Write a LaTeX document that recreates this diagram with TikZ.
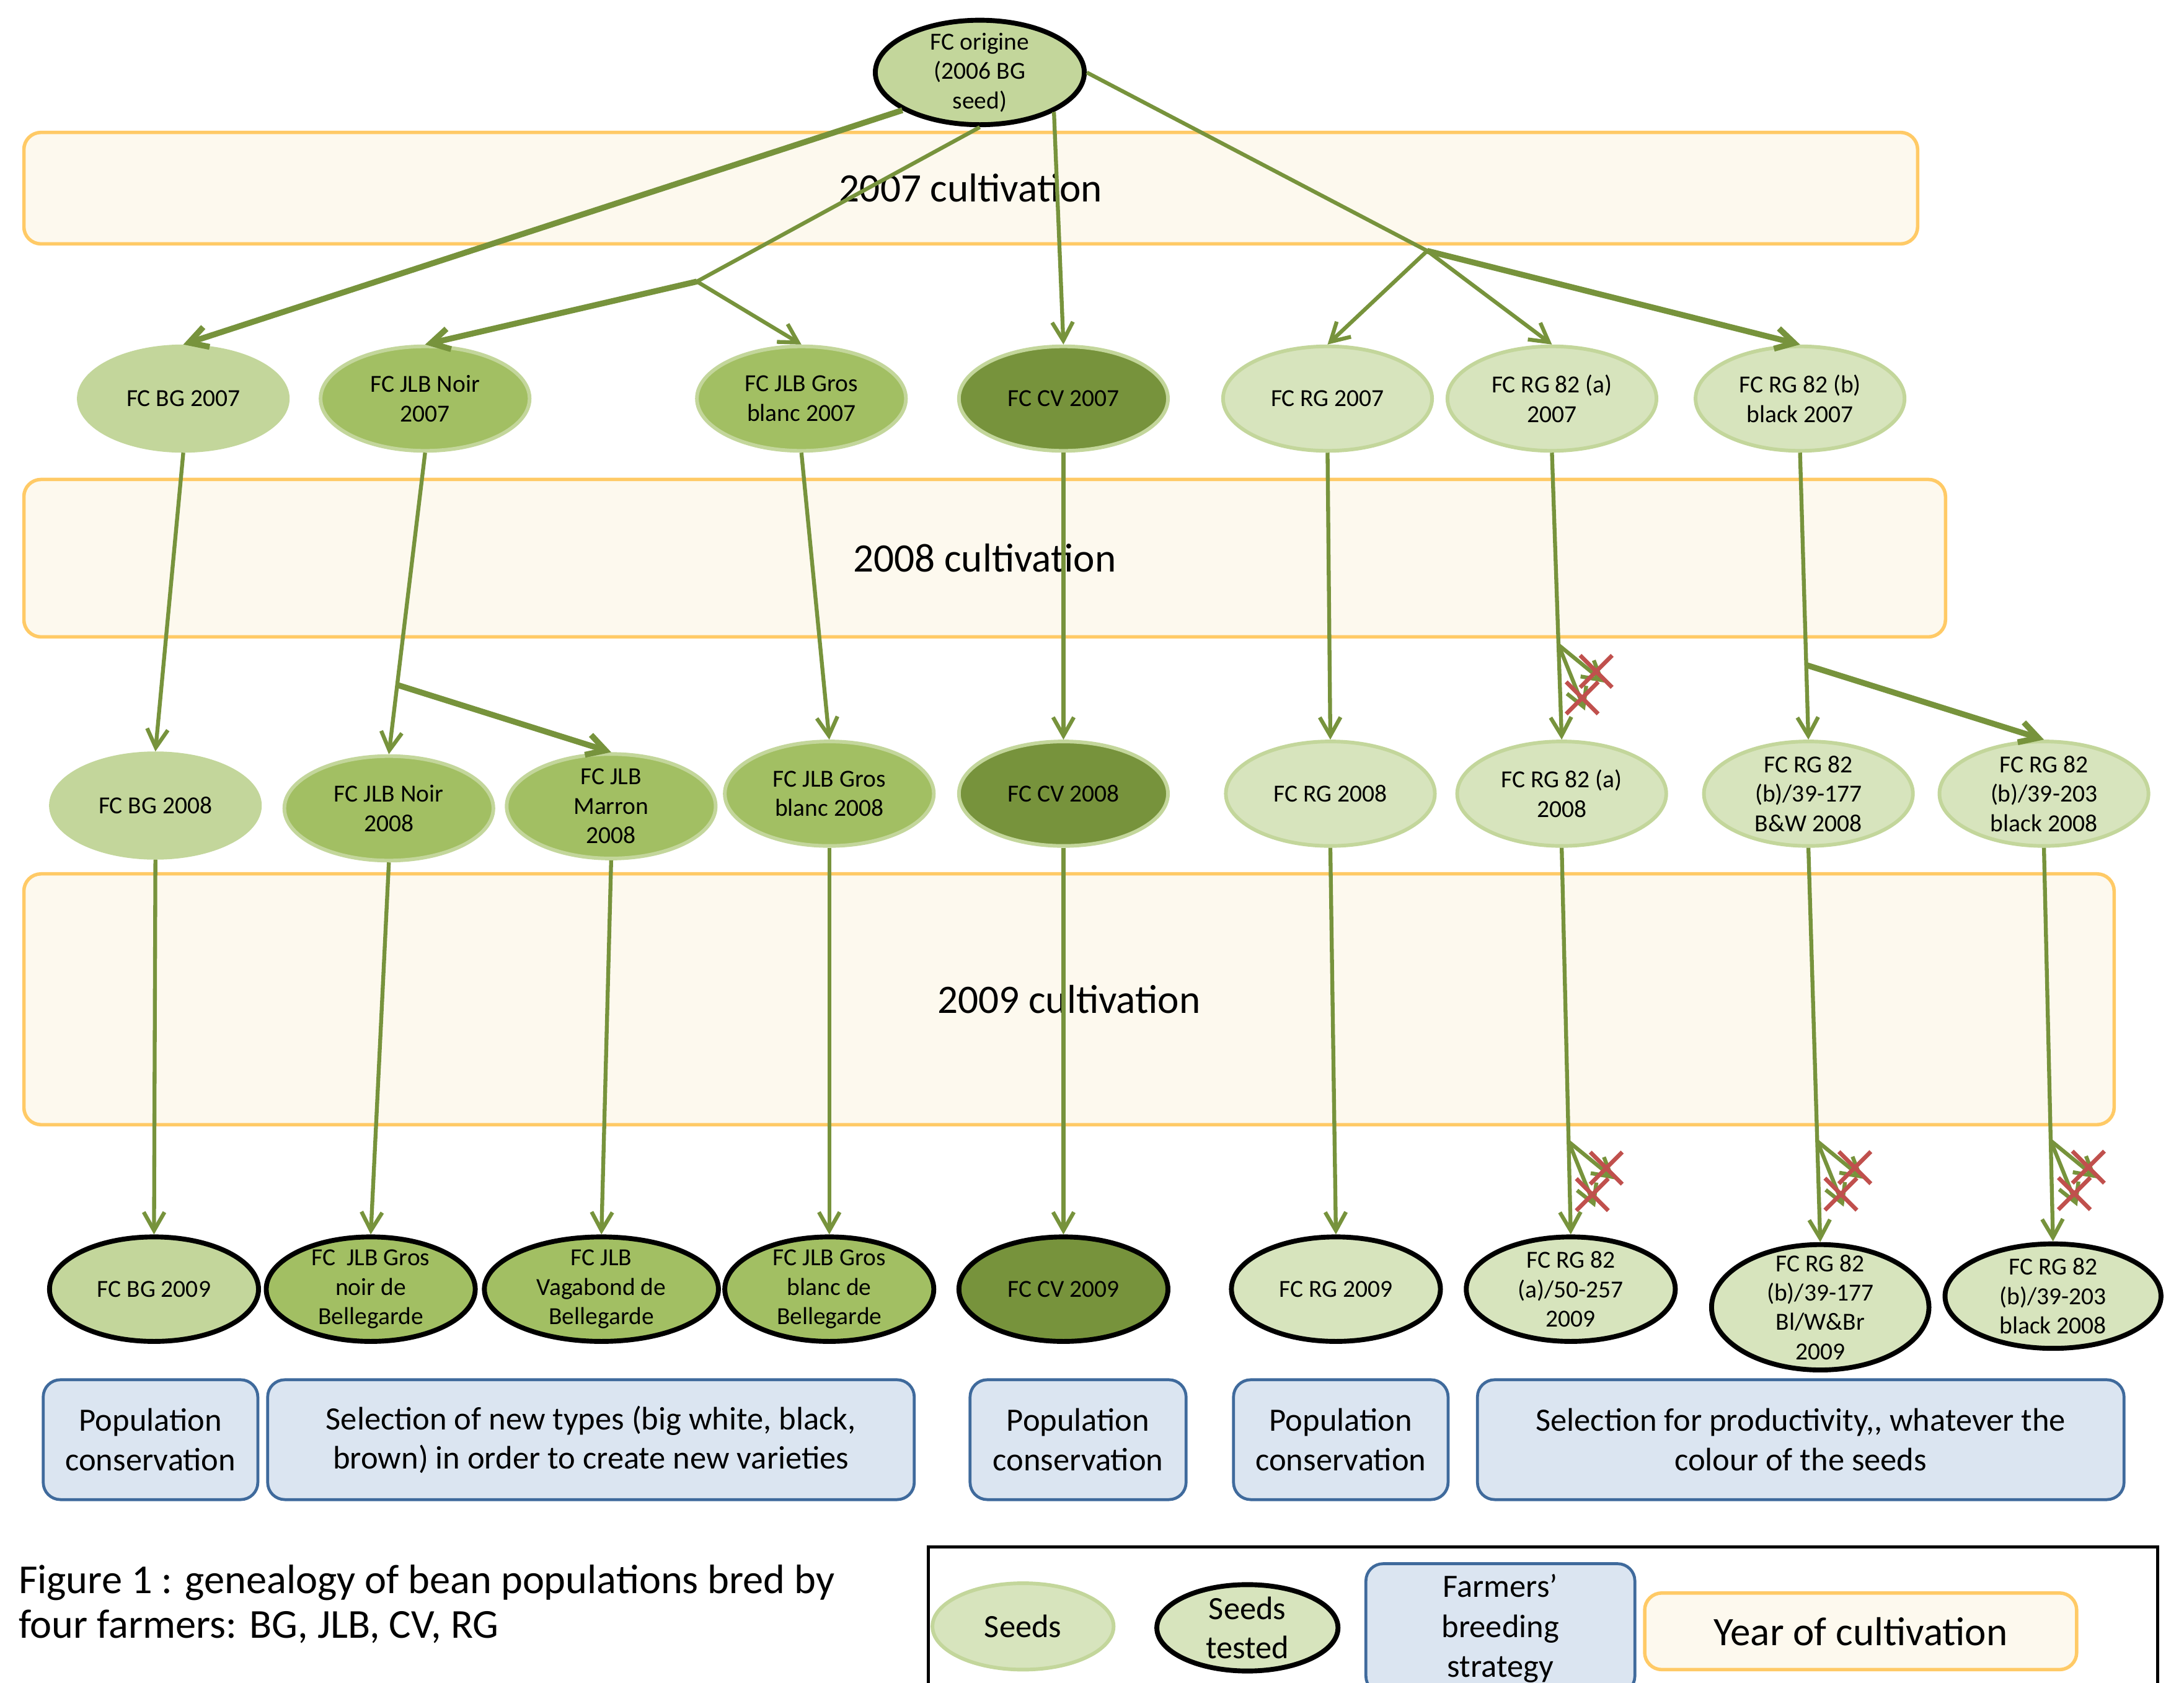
\documentclass[tikz,border=0pt]{standalone}
\usepackage{fontspec}
\setmainfont{Carlito}
\usetikzlibrary{shapes.geometric}
\usetikzlibrary{shapes.misc}
\usetikzlibrary{arrows.meta}
\usetikzlibrary{calc}
\definecolor{yearfill}{HTML}{FDF9EE}
\definecolor{yeardraw}{HTML}{FFCA66}
\definecolor{stratfill}{HTML}{DBE5F1}
\definecolor{stratdraw}{HTML}{3F6A9C}
\definecolor{bgfill}{HTML}{C3D69B}
\definecolor{jlbfill}{HTML}{A2BF63}
\definecolor{cvfill}{HTML}{77933C}
\definecolor{rgfill}{HTML}{D7E4BD}
\definecolor{linkgreen}{HTML}{77933C}
\definecolor{crossred}{HTML}{C0504D}
\tikzset{>={Straight Barb[length=7.5pt,width=8.5pt]}}
\tikzset{seed/.style={ellipse,inner sep=-6pt,minimum width=3cm,minimum height=1.5cm,align=center,line width=1.5pt,font=\fontsize{10}{12}\selectfont}}
\tikzset{bgseed/.style={seed,fill=bgfill,draw=bgfill}}
\tikzset{jlbseed/.style={seed,fill=jlbfill,draw=bgfill}}
\tikzset{cvseed/.style={seed,fill=cvfill,draw=bgfill}}
\tikzset{rgseed/.style={seed,fill=rgfill,draw=bgfill}}
\tikzset{tested/.style={draw=black,line width=2pt}}
\tikzset{year/.style={rectangle,rounded corners=7pt,fill=yearfill,draw=yeardraw,line width=1.4pt,font=\fontsize{16.5}{20}\selectfont}}
\tikzset{strategy/.style={rectangle,rounded corners=7pt,fill=stratfill,draw=stratdraw,line width=1.2pt,align=center,minimum height=1.72cm,font=\fontsize{13.3}{16}\selectfont}}
\tikzset{link/.style={draw=linkgreen,line width=1.6pt}}
\tikzset{biglink/.style={draw=linkgreen,line width=2.4pt}}
\tikzset{rejected/.style={cross out,draw=crossred,line width=1.7pt,minimum size=0.4cm,inner sep=0pt}}
\newcommand{\rejectpair}[1]{%
  \coordinate (#1x1) at ($(#1)+(33,27)$);
  \coordinate (#1x2) at ($(#1)+(19,47)$);
  \draw[link,->] (#1) -- (#1x1);
  \draw[link,->] (#1) -- (#1x2);
  \node[rejected] (#1c1) at ($(#1)+(27,19)$) {};
  \node[rejected] (#1c2) at ($(#1)+(17,38)$) {};
}

\begin{document}
\begin{tikzpicture}[x={(0.02cm,0)},y={(0,-0.02cm)}]
\useasboundingbox (0,0) rectangle (1567,1207.6);

\node[year,minimum width=27.18cm,minimum height=1.6cm] (y07) at (696.5,135) {2007 cultivation};
\node[year,minimum width=27.58cm,minimum height=2.26cm] (y08) at (706.5,400.5) {2008 cultivation};
\node[year,minimum width=30cm,minimum height=3.6cm] (y09) at (767,717) {2009 cultivation};

\node[bgseed,tested] (origin) at (703,52) {FC origine\\(2006 BG\\seed)};

\node[bgseed] (bg07) at (131.5,286) {FC BG 2007};
\node[jlbseed] (noir07) at (305,286) {FC JLB Noir\\2007};
\node[jlbseed] (gros07) at (575,286) {FC JLB Gros\\blanc 2007};
\node[cvseed] (cv07) at (763,286) {FC CV 2007};
\node[rgseed] (rg07) at (952.5,286) {FC RG 2007};
\node[rgseed] (rga07) at (1113.5,286) {FC RG 82 (a)\\2007};
\node[rgseed] (rgb07) at (1291.5,286) {FC RG 82 (b)\\black 2007};

\node[bgseed] (bg08) at (111.5,578) {FC BG 2008};
\node[jlbseed] (noir08) at (279,580) {FC JLB Noir\\2008};
\node[jlbseed] (marron08) at (438.5,578.5) {FC JLB\\Marron\\2008};
\node[jlbseed] (gros08) at (595,569.5) {FC JLB Gros\\blanc 2008};
\node[cvseed] (cv08) at (763,569.5) {FC CV 2008};
\node[rgseed] (rg08) at (954.5,569.5) {FC RG 2008};
\node[rgseed] (rga08) at (1120.5,569.5) {FC RG 82 (a)\\2008};
\node[rgseed] (rgb177) at (1297.5,569.5) {FC RG 82\\(b)/39-177\\B\&W 2008};
\node[rgseed] (rgb203) at (1466.5,569.5) {FC RG 82\\(b)/39-203\\black 2008};

\node[bgseed,tested] (bg09) at (110.5,925) {FC BG 2009};
\node[jlbseed,tested] (noir09) at (266,925) {FC\ \ JLB Gros\\noir de\\Bellegarde};
\node[jlbseed,tested,minimum width=3.36cm] (vaga09) at (431.5,925) {FC JLB\\Vagabond de\\Bellegarde};
\node[jlbseed,tested] (gros09) at (595,925) {FC JLB Gros\\blanc de\\Bellegarde};
\node[cvseed,tested] (cv09) at (763,925) {FC CV 2009};
\node[rgseed,tested] (rg09) at (958.5,925) {FC RG 2009};
\node[rgseed,tested] (rga09) at (1127,925) {FC RG 82\\(a)/50-257\\2009};
\node[rgseed,tested,minimum width=3.12cm,minimum height=1.8cm] (rgb177b) at (1306,938) {FC RG 82\\(b)/39-177\\Bl/W\&Br\\2009};
\node[rgseed,tested,minimum width=3.1cm] (rgb203b) at (1473,930) {FC RG 82\\(b)/39-203\\black 2008};

\coordinate (jlb) at (500,202);
\coordinate (rg) at (1024,180);
\draw[biglink,->] (origin.206) -- (bg07.north);
\draw[link] (origin.south) -- (jlb);
\draw[biglink,->] (jlb) -- (noir07.north);
\draw[link,->] (jlb) -- (gros07.north);
\draw[link,->] (origin.-28) -- (cv07.north);
\draw[link] (origin.east) -- (rg);
\draw[link,->] (rg) -- (rg07.north);
\draw[link,->] (rg) -- (rga07.north);
\draw[biglink,->] (rg) -- (rgb07.north);

\draw[link,->] (bg07.south) -- (bg08.north);
\draw[link,->] (noir07.south) -- (noir08.north);
\coordinate (noirsplit) at ($(noir07.south)!0.77!(noir08.north)$);
\draw[biglink,->] (noirsplit) -- (marron08.north);
\draw[link,->] (gros07.south) -- (gros08.north);
\draw[link,->] (cv07.south) -- (cv08.north);
\draw[link,->] (rg07.south) -- (rg08.north);
\draw[link,->] (rga07.south) -- (rga08.north);
\coordinate (rgarej) at ($(rga07.south)!0.67!(rga08.north)$);
\rejectpair{rgarej}
\draw[link,->] (rgb07.south) -- (rgb177.north);
\coordinate (rgbsplit) at ($(rgb07.south)!0.74!(rgb177.north)$);
\draw[biglink,->] (rgbsplit) -- (rgb203.north);

\draw[link,->] (bg08.south) -- (bg09.north);
\draw[link,->] (noir08.south) -- (noir09.north);
\draw[link,->] (marron08.south) -- (vaga09.north);
\draw[link,->] (gros08.south) -- (gros09.north);
\draw[link,->] (cv08.south) -- (cv09.north);
\draw[link,->] (rg08.south) -- (rg09.north);
\draw[link,->] (rga08.south) -- (rga09.north);
\coordinate (rgarejb) at ($(rga08.south)!0.76!(rga09.north)$);
\rejectpair{rgarejb}
\draw[link,->] (rgb177.south) -- (rgb177b.north);
\coordinate (rgbrej) at ($(rgb177.south)!0.744!(rgb177b.north)$);
\rejectpair{rgbrej}
\draw[link,->] (rgb203.south) -- (rgb203b.north);
\coordinate (rgcrej) at ($(rgb203.south)!0.744!(rgb203b.north)$);
\rejectpair{rgcrej}

\node[strategy,minimum width=3.08cm] (s1) at (108,1033) {Population\\conservation};
\node[strategy,minimum width=9.28cm] (s2) at (424,1033) {Selection of new types (big white, black,\\brown) in order to create new varieties};
\node[strategy,minimum width=3.1cm] (s3) at (773.5,1033) {Population\\conservation};
\node[strategy,minimum width=3.08cm] (s4) at (962,1033) {Population\\conservation};
\node[strategy,minimum width=9.28cm] (s5) at (1292,1033) {Selection for productivity,{},{} whatever the\\colour of the seeds};

\node[anchor=west,inner sep=0pt,align=left,font=\fontsize{16.8}{18.2}\selectfont] (caption) at (13,1151) {Figure 1 : genealogy of bean populations bred by\\four farmers: BG, JLB, CV, RG};

\draw[line width=1.3pt] (666,1250) -- (666,1110) -- (1548,1110) -- (1548,1250);
\node[rgseed,minimum width=2.6cm,minimum height=1.24cm,font=\fontsize{13.3}{16}\selectfont] (keyseed) at (734,1167) {Seeds};
\node[rgseed,tested,minimum width=2.6cm,minimum height=1.24cm,font=\fontsize{13.3}{16}\selectfont] (keytested) at (895,1168) {Seeds\\tested};
\node[strategy,minimum width=3.86cm,minimum height=1.86cm,font=\fontsize{13.3}{16.4}\selectfont] (keystrategy) at (1076.5,1168.5) {Farmers’\\breeding\\strategy};
\node[year,minimum width=6.2cm,minimum height=1.1cm] (keyyear) at (1335,1170.5) {Year of cultivation};
\end{tikzpicture}
\end{document}
